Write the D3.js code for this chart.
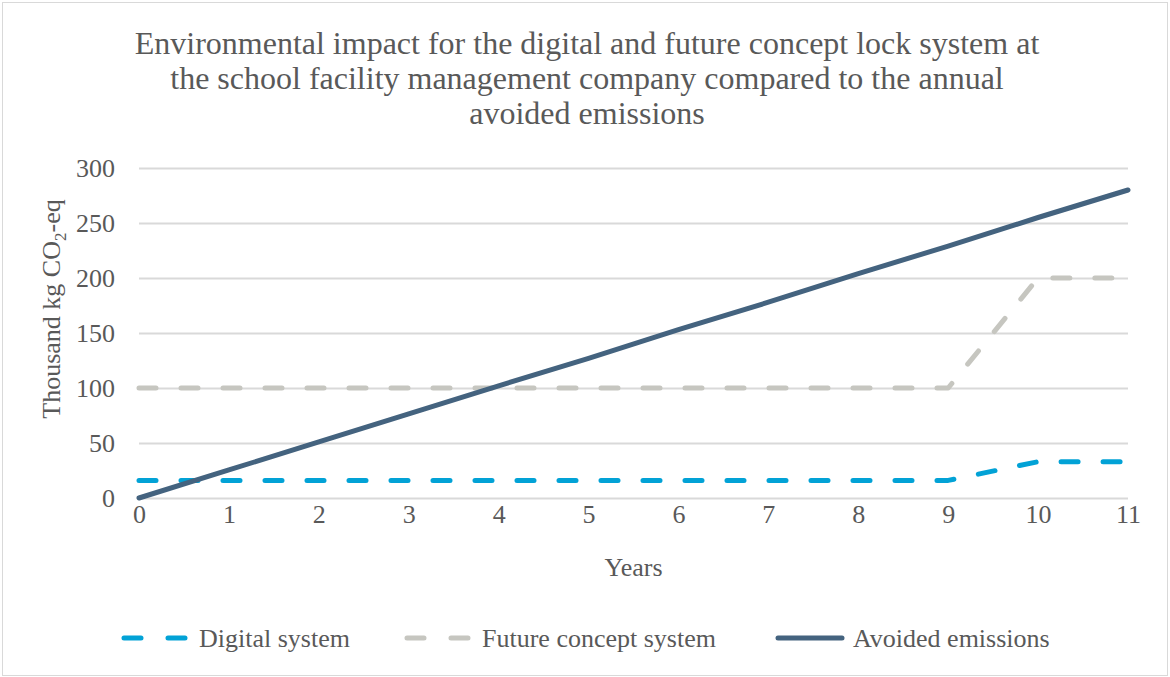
<!DOCTYPE html>
<html>
<head>
<meta charset="utf-8">
<script src="https://cdn.jsdelivr.net/npm/d3@7"></script>
<style>
  body { margin: 0; background: #fff; }
  svg text { font-family: "Liberation Serif", "Times New Roman", serif; fill: #595959; }
</style>
</head>
<body>
<div id="chart"></div>
<script>
const years = [0, 1, 2, 3, 4, 5, 6, 7, 8, 9, 10, 11];
const digital = [16, 16, 16, 16, 16, 16, 16, 16, 16, 16, 33, 33];
const futureConcept = [100, 100, 100, 100, 100, 100, 100, 100, 100, 100, 200, 200];
const avoided = [0, 25.5, 51, 76.5, 102, 127, 153, 178, 204, 229, 255, 280];
const yTicks = [0, 50, 100, 150, 200, 250, 300];
const titleLines = [
  'Environmental impact for the digital and future concept lock system at',
  'the school facility management company compared to the annual',
  'avoided emissions'
];

const w = 1170;
const h = 677;

const series = [
  { name: 'Digital system', values: digital, color: '#02a2d6', dash: '17,25' },
  { name: 'Future concept system', values: futureConcept, color: '#c6c6c0', dash: '17,25' },
  { name: 'Avoided emissions', values: avoided, color: '#44637f', dash: null }
];

const xScale = d3.scaleLinear()
  .domain([0, 11])
  .range([139, 1128]);

const yScale = d3.scaleLinear()
  .domain([0, 300])
  .range([498, 168]);

const svg = d3.select('#chart')
  .append('svg')
  .attr('width', w)
  .attr('height', h);

// outer border
svg.append('rect')
  .attr('x', 2.5)
  .attr('y', 2.5)
  .attr('width', w - 5)
  .attr('height', h - 4)
  .attr('fill', 'none')
  .attr('stroke', '#d9d9d9')
  .attr('stroke-width', 1);

// title
svg.append('g')
  .selectAll('text')
  .data(titleLines)
  .enter()
  .append('text')
  .attr('x', 587)
  .attr('y', function(d, i) { return 54 + i * 35; })
  .attr('text-anchor', 'middle')
  .attr('font-size', '32px')
  .text(function(d) { return d; });

// gridlines
svg.append('g')
  .selectAll('line')
  .data(yTicks)
  .enter()
  .append('line')
  .attr('x1', xScale(0))
  .attr('x2', xScale(11))
  .attr('y1', function(d) { return Math.round(yScale(d)) + 0.5; })
  .attr('y2', function(d) { return Math.round(yScale(d)) + 0.5; })
  .attr('stroke', '#d9d9d9')
  .attr('stroke-width', 2);

// y axis
const yAxis = svg.append('g')
  .attr('transform', 'translate(' + (xScale(0) - 24) + ',0)')
  .call(d3.axisLeft(yScale).tickValues(yTicks).tickSize(0).tickPadding(0));
yAxis.select('.domain').remove();
yAxis.selectAll('text')
  .attr('font-size', '26px')
  .attr('dy', '0.33em')
  .style('font-family', '"Liberation Serif", serif')
  .attr('fill', '#595959');

// x axis
const xAxis = svg.append('g')
  .attr('transform', 'translate(0,' + yScale(0) + ')')
  .call(d3.axisBottom(xScale).tickValues(years).tickFormat(d3.format('d')).tickSize(0).tickPadding(21));
xAxis.select('.domain').remove();
xAxis.selectAll('text')
  .attr('font-size', '26px')
  .attr('dy', '0.15em')
  .style('font-family', '"Liberation Serif", serif')
  .attr('fill', '#595959');

// axis titles
svg.append('text')
  .attr('x', xScale(5.5))
  .attr('y', 576)
  .attr('text-anchor', 'middle')
  .attr('font-size', '26px')
  .text('Years');

const yTitle = svg.append('text')
  .attr('transform', 'translate(60,309) rotate(-90)')
  .attr('text-anchor', 'middle')
  .attr('font-size', '26px');
yTitle.append('tspan').text('Thousand kg CO');
yTitle.append('tspan').attr('font-size', '17px').attr('dy', '6').text('2');
yTitle.append('tspan').attr('dy', '-6').text('-eq');

// lines
const line = d3.line()
  .x(function(d, i) { return xScale(years[i]); })
  .y(function(d) { return yScale(d); });

svg.append('g')
  .selectAll('path')
  .data(series)
  .enter()
  .append('path')
  .attr('d', function(d) { return line(d.values); })
  .attr('fill', 'none')
  .attr('stroke', function(d) { return d.color; })
  .attr('stroke-width', 5)
  .attr('stroke-linecap', 'round')
  .attr('stroke-linejoin', 'round')
  .attr('stroke-dasharray', function(d) { return d.dash; });

// legend
const legendX = [124, 407, 778];
const legend = svg.append('g')
  .selectAll('g')
  .data(series)
  .enter()
  .append('g')
  .attr('transform', function(d, i) { return 'translate(' + legendX[i] + ',638)'; });

legend.append('line')
  .attr('x1', 0)
  .attr('x2', 64)
  .attr('y1', 0)
  .attr('y2', 0)
  .attr('stroke', function(d) { return d.color; })
  .attr('stroke-width', 5)
  .attr('stroke-linecap', 'round')
  .attr('stroke-dasharray', function(d) { return d.dash ? '17,27' : null; });

legend.append('text')
  .attr('x', 75)
  .attr('y', 0)
  .attr('dy', '0.33em')
  .attr('font-size', '26px')
  .text(function(d) { return d.name; });
</script>
</body>
</html>
